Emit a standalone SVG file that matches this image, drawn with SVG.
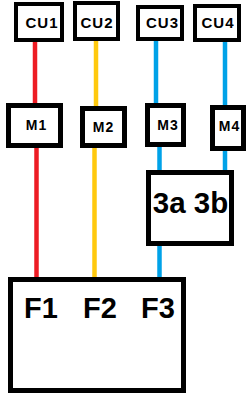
<svg xmlns="http://www.w3.org/2000/svg" width="250" height="398" viewBox="0 0 250 398">
<style>
.b{fill:#fff;stroke:#000}
.s4{stroke-width:4}
.s5{stroke-width:5}
.t{font-family:"Liberation Sans",Arial,sans-serif;font-weight:bold;fill:#000;text-anchor:middle}
.sm{font-size:15px;letter-spacing:1px}
.md{font-size:14px;letter-spacing:1px}
.lg{font-size:29px}
.w{stroke-width:4.5;fill:none}
.red{stroke:#ed1c24}
.yel{stroke:#ffc90e}
.blu{stroke:#00a2e8}
</style>
<rect width="250" height="398" fill="#fff"/>
<g id="connectors">
<line class="w red" x1="35" y1="42" x2="35" y2="104"/>
<line class="w red" x1="36.5" y1="147" x2="36.5" y2="278"/>
<line class="w yel" x1="96" y1="41" x2="96" y2="107"/>
<line class="w yel" x1="94.5" y1="147" x2="94.5" y2="278"/>
<line class="w blu" x1="156" y1="41" x2="156" y2="104"/>
<line class="w blu" x1="225" y1="42" x2="225" y2="106"/>
<line class="w blu" x1="159.5" y1="146" x2="159.5" y2="171"/>
<line class="w blu" x1="225" y1="150" x2="225" y2="171"/>
<line class="w blu" x1="159.5" y1="245" x2="159.5" y2="278"/>
</g>
<g id="CU1"><rect class="b s4" x="16" y="4" width="46" height="36"/><text class="t sm" x="42" y="28">CU1</text></g>
<g id="CU2"><rect class="b s4" x="75" y="3" width="43" height="36"/><text class="t sm" x="97" y="28">CU2</text></g>
<g id="CU3"><rect class="b s4" x="138" y="7" width="44" height="32"/><text class="t sm" x="162.5" y="28">CU3</text></g>
<g id="CU4"><rect class="b s4" x="195" y="6" width="44" height="34"/><text class="t sm" x="218" y="28">CU4</text></g>
<g id="M1"><rect class="b s5" x="8.5" y="105.5" width="52" height="40"/><text class="t md" x="36.5" y="130">M1</text></g>
<g id="M2"><rect class="b s5" x="82.5" y="108.5" width="42" height="37"/><text class="t md" x="103.5" y="132">M2</text></g>
<g id="M3"><rect class="b s5" x="147.5" y="105.5" width="36" height="39"/><text class="t md" x="168" y="130">M3</text></g>
<g id="M4"><rect class="b s5" x="212.5" y="107.5" width="31" height="41"/><text class="t md" x="229.5" y="131">M4</text></g>
<g id="N3ab"><rect class="b s5" x="148.5" y="172.5" width="83" height="71"/><text class="t" x="190.5" y="213" font-size="29.5">3a 3b</text></g>
<g id="F"><rect class="b s5" x="10.5" y="279.5" width="173" height="111"/>
<text class="t lg" x="41" y="318">F1</text>
<text class="t lg" x="100" y="318">F2</text>
<text class="t lg" x="158" y="318">F3</text></g>
</svg>
